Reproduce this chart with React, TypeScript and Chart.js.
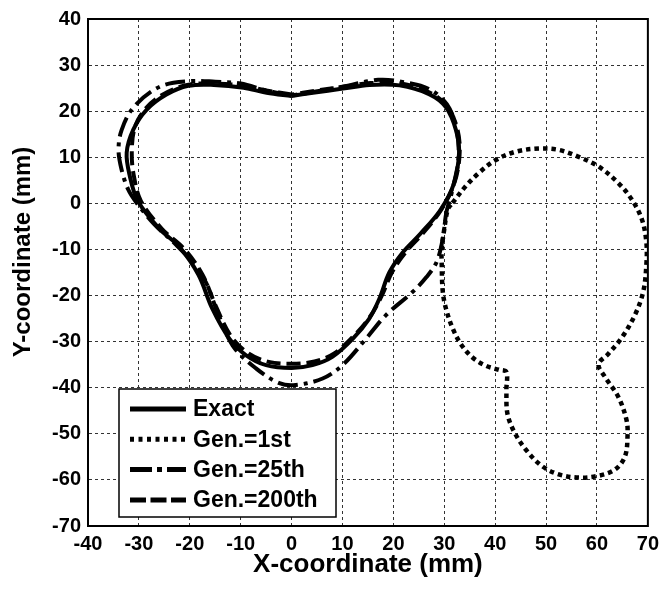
import React, { useEffect, useRef } from "react";
import { Chart, registerables } from "chart.js";

Chart.register(...registerables);

// ---- data (mm) ----
const seriesNames = ["Exact", "Gen.=1st", "Gen.=25th", "Gen.=200th"];

const exactX = [0, -4.9, -9.4, -15.3, -20.3, -24.6, -28.5, -31.1, -32.4, -31.8, -30.2, -26.0, -22.0, -18.3, -15.6, -12.2, -9.0, -5.0, 0, 4.1, 8.0, 12.0, 15.2, 17.2, 19.2, 21.8, 25.3, 29.2, 31.8, 32.9, 32.3, 30.3, 27.0, 21.2, 15.3, 10.1, 4.2, 0];
const exactY = [23.3, 24.0, 25.1, 25.7, 25.5, 23.6, 20.3, 16.0, 11.0, 6.0, 0.5, -5.5, -9.5, -15.5, -22.8, -29.4, -32.9, -35.1, -35.7, -35.1, -33.3, -29.4, -25.1, -20.8, -15.0, -10.7, -6.6, -1.5, 4.0, 10.9, 15.9, 20.9, 23.7, 25.6, 25.7, 24.9, 24.0, 23.3];

const gen1X = [31.6, 34.2, 36.8, 40.1, 44.0, 48.6, 52.5, 56.4, 60.3, 64.2, 66.8, 68.8, 69.7, 69.7, 69.1, 67.5, 64.9, 62.2, 60.3, 61.6, 64.2, 65.8, 66.0, 65.5, 63.6, 60.3, 56.4, 52.5, 49.2, 46.0, 43.7, 42.4, 42.2, 42.2, 40.7, 38.1, 35.5, 33.3, 31.6, 30.3, 29.7, 29.5, 29.5, 30.0, 30.7, 31.6];
const gen1Y = [0.1, 3.7, 6.6, 9.4, 11.2, 11.9, 11.6, 10.1, 8.0, 4.4, 0.9, -3.4, -8.4, -13.4, -19.1, -24.1, -29.1, -32.7, -34.9, -37.7, -42.0, -47.0, -50.6, -54.9, -57.7, -59.1, -59.5, -58.8, -57.0, -53.4, -49.5, -45.6, -40.6, -36.6, -36.1, -35.2, -33.4, -30.6, -27.0, -22.7, -19.1, -13.4, -9.9, -5.6, -1.3, 0.1];

const gen25X = [0, -5, -10, -15, -20.1, -25.9, -31.0, -33.4, -34.0, -33.4, -32.1, -30.5, -27.0, -22.5, -19.4, -16.8, -14.8, -11.6, -7.0, -2.4, 0.8, 6.1, 10.0, 14.6, 18.5, 23.7, 26.5, 28.5, 29.7, 30.4, 31.5, 32.8, 32.3, 30.5, 27.0, 21.5, 17.0, 10.0, 4.5, 0];
const gen25Y = [23.4, 24.5, 26.0, 26.4, 26.5, 25.3, 20.9, 15.9, 11.6, 7.3, 3.0, 0.2, -4.5, -9.2, -12.9, -17.2, -22.9, -30.8, -35.8, -39.0, -39.4, -38.0, -35.1, -29.4, -24.3, -19.3, -16.0, -12.7, -7.7, -2.0, 2.5, 10.0, 16.5, 21.5, 24.8, 26.4, 26.8, 25.3, 24.2, 23.4];

const gen200X = [0, -5, -10, -15.5, -20.5, -25, -28.5, -30.8, -31.4, -31.0, -29.6, -25.5, -21.0, -17.5, -14.8, -11.8, -8.5, -4.5, 0, 4.5, 8.3, 12.2, 15.4, 17.6, 19.8, 22.4, 25.8, 29.5, 32.0, 33.0, 32.6, 30.6, 27.2, 21.5, 15.5, 10.2, 4.5, 0];
const gen200Y = [23.6, 24.5, 25.6, 26.0, 25.7, 23.8, 20.8, 16.5, 11.0, 6.0, 0.5, -5.5, -10.0, -15.5, -22.5, -29.0, -32.5, -34.4, -34.8, -34.3, -32.6, -28.8, -24.6, -20.3, -14.8, -10.6, -6.5, -1.2, 4.5, 10.5, 16.0, 21.0, 24.0, 26.0, 26.1, 25.3, 24.4, 23.6];

const xMin = -40, xMax = 70, yMin = -70, yMax = 40, tickStep = 10;
const xTitle = "X-coordinate (mm)";
const yTitle = "Y-coordinate (mm)";

const FONT = "'Liberation Sans', Arial, Helvetica, sans-serif";

const pts = (xs: number[], ys: number[]) => xs.map((x, i) => ({ x, y: ys[i] }));

const framePlugin = {
  id: "frame",
  afterDatasetsDraw(chart: any) {
    const { ctx, chartArea } = chart;
    const { left, top, right, bottom } = chartArea;
    ctx.save();
    ctx.strokeStyle = "#000";
    ctx.lineWidth = 2;
    ctx.strokeRect(left, top, right - left, bottom - top);
    ctx.restore();
  },
};

const yTitlePlugin = {
  id: "yTitle",
  afterDraw(chart: any) {
    const { ctx } = chart;
    ctx.save();
    ctx.translate(23, 252);
    ctx.rotate(-Math.PI / 2);
    ctx.fillStyle = "#000";
    ctx.font = `bold 24px ${FONT}`;
    ctx.textAlign = "center";
    ctx.textBaseline = "middle";
    ctx.fillText(yTitle, 0, 0);
    ctx.restore();
  },
};

const legendPlugin = {
  id: "boxLegend",
  afterDraw(chart: any) {
    const { ctx } = chart;
    const bx = 119, by = 389, bw = 217, bh = 128;
    ctx.save();
    ctx.fillStyle = "#fff";
    ctx.fillRect(bx, by, bw, bh);
    ctx.strokeStyle = "#000";
    ctx.lineWidth = 1.5;
    ctx.strokeRect(bx, by, bw, bh);
    chart.data.datasets.forEach((ds: any, i: number) => {
      const cy = by + 20 + i * 30.3;
      ctx.beginPath();
      ctx.setLineDash(ds.legendDash || []);
      ctx.lineCap = "butt";
      ctx.lineWidth = 5;
      ctx.strokeStyle = "#000";
      ctx.moveTo(130, cy);
      ctx.lineTo(186, cy);
      ctx.stroke();
      ctx.setLineDash([]);
      ctx.fillStyle = "#000";
      ctx.font = `bold 23px ${FONT}`;
      ctx.textBaseline = "middle";
      ctx.textAlign = "left";
      ctx.fillText(ds.label, 193, cy + 1);
    });
    ctx.restore();
  },
};

export default function App() {
  const ref = useRef<HTMLCanvasElement | null>(null);

  useEffect(() => {
    document.body.style.margin = "0";
    const canvas = ref.current;
    if (!canvas) return;
    const common = {
      showLine: true,
      pointRadius: 0,
      borderColor: "#000",
      borderWidth: 4,
      borderCapStyle: "butt",
      borderJoinStyle: "round",
      fill: false,
      tension: 0.35,
    };
    const chart = new Chart(canvas, {
      type: "scatter",
      data: {
        datasets: [
          { ...common, label: seriesNames[0], data: pts(exactX, exactY), borderDash: [], legendDash: [], order: 1 },
          { ...common, label: seriesNames[1], data: pts(gen1X, gen1Y), borderWidth: 4.5, borderDash: [4.5, 4], legendDash: [4, 4.5], order: 4 },
          { ...common, label: seriesNames[2], data: pts(gen25X, gen25Y), borderDash: [20, 6, 4, 6], legendDash: [22, 5, 5, 5], order: 3 },
          { ...common, label: seriesNames[3], data: pts(gen200X, gen200Y), borderDash: [14, 6], legendDash: [16, 4.5], order: 2 },
        ] as any,
      },
      options: {
        responsive: false,
        animation: false,
        devicePixelRatio: 1,
        layout: { padding: { top: 15, right: 16, left: 0, bottom: 0 } },
        plugins: {
          legend: { display: false },
          tooltip: { enabled: false },
        },
        scales: {
          x: {
            type: "linear",
            min: xMin,
            max: xMax,
            ticks: {
              stepSize: tickStep,
              color: "#000",
              padding: 6,
              maxRotation: 0,
              autoSkip: false,
              font: { family: FONT, size: 20, weight: "bold" },
            },
            grid: { color: "#333", lineWidth: 1, drawTicks: false },
            border: { display: true, color: "#000", width: 2, dash: [3, 3] },
            title: {
              display: true,
              text: xTitle,
              color: "#000",
              font: { family: FONT, size: 26, weight: "bold" },
              padding: { top: 0, bottom: 14 },
            },
            afterFit: (s: any) => {
              s.height = 68;
            },
          },
          y: {
            type: "linear",
            min: yMin,
            max: yMax,
            ticks: {
              stepSize: tickStep,
              color: "#000",
              padding: 7,
              autoSkip: false,
              font: { family: FONT, size: 20, weight: "bold" },
            },
            grid: { color: "#333", lineWidth: 1, drawTicks: false },
            border: { display: true, color: "#000", width: 2, dash: [3, 3] },
            title: { display: false },
            afterFit: (s: any) => {
              s.width = 88;
            },
          },
        },
      } as any,
      plugins: [framePlugin, legendPlugin, yTitlePlugin],
    });
    return () => chart.destroy();
  }, []);

  return (
    <div style={{ width: 665, height: 594 }}>
      <canvas ref={ref} width={665} height={594} style={{ display: "block" }} />
    </div>
  );
}
